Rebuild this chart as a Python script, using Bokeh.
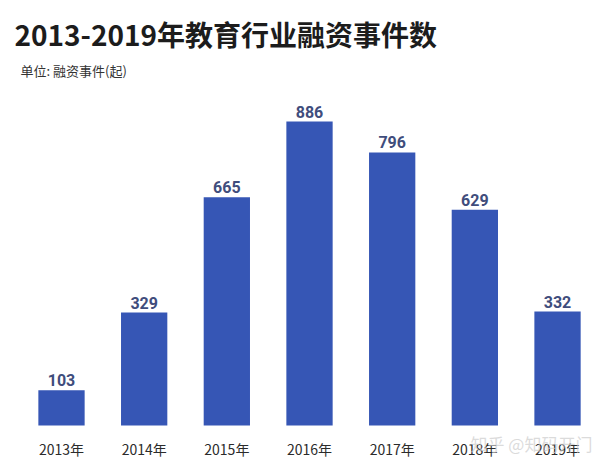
from bokeh.plotting import figure
from bokeh.models import Range1d, ColumnDataSource
from bokeh.core.properties import value
from bokeh.embed import file_html
from bokeh.resources import INLINE

years = ["2013年", "2014年", "2015年", "2016年", "2017年", "2018年", "2019年"]
counts = [103, 329, 665, 886, 796, 629, 332]
title_text = "2013-2019年教育行业融资事件数"
subtitle_text = "单位: 融资事件(起)"
watermark = "知乎 @知码开门"

idx = list(range(len(years)))
src = ColumnDataSource(dict(x=idx, y=counts, t=[str(c) for c in counts], yr=years))

W, H = 614, 466
step = 82.67          # px per category
x0 = -61 / step       # first bar centre sits 61 px from left
ppu = 0.3431          # px per event
base = 425            # px from top where value 0 sits

def dx(px):
    return x0 + px / step

def dy(py):
    return (base - py) / ppu

p = figure(width=W, height=H, x_range=Range1d(x0, x0 + W / step),
           y_range=Range1d(dy(H), dy(0)), output_backend="svg", toolbar_location=None,
           min_border=0, background_fill_color="white", border_fill_color="white")
p.outline_line_color = None
p.grid.visible = False
p.axis.visible = False

p.vbar(x="x", top="y", width=0.56, source=src, fill_color="#3656B5", line_color=None)

p.text(x="x", y="y", text="t", source=src, text_align="center", text_baseline="bottom",
       y_offset=-4, text_font=value("Roboto"), text_font_style="bold", text_font_size="16px",
       text_color="#3f4d7c")

p.text(x="x", y=dy(448), text="yr", source=src, text_align="center", text_baseline="middle",
       text_font=value("Noto Sans CJK SC"), text_font_size="14px", text_color="#2b2b2b")

p.text(x=[dx(14)], y=[dy(33)], text=[title_text], text_baseline="middle",
       text_font=value("Noto Sans CJK SC"), text_font_style="bold", text_font_size="28px",
       text_color="#1c1c1c")
p.text(x=[dx(20)], y=[dy(70)], text=[subtitle_text], text_baseline="middle",
       text_font=value("Noto Sans CJK SC"), text_font_size="13px", text_color="#333333")
p.text(x=[dx(470)], y=[dy(443)], text=[watermark], text_baseline="middle",
       text_font=value("Noto Sans CJK SC"), text_font_size="17px", text_color="#cccccc",
       text_alpha=0.7)

open("out.html", "w").write(file_html(p, INLINE))
